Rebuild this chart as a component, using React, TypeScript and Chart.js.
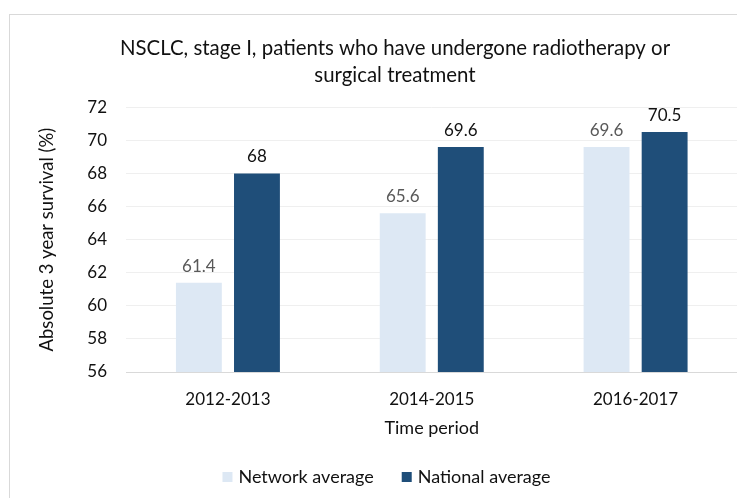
import React, { useEffect, useRef } from "react";
import { Chart, registerables } from "chart.js";

Chart.register(...registerables);

const categories = ["2012-2013", "2014-2015", "2016-2017"];
const networkAverage = [61.4, 65.6, 69.6];
const nationalAverage = [68, 69.6, 70.5];
const seriesNames = ["Network average", "National average"];
const titleLines = ["NSCLC, stage I, patients who have undergone radiotherapy or", "surgical treatment"];
const yTitle = "Absolute 3 year survival (%)";
const xTitle = "Time period";

const FONT = "Lato, 'Open Sans', sans-serif";

const dataLabels = {
  id: "dataLabels",
  afterDatasetsDraw(chart: any) {
    const ctx = chart.ctx;
    ctx.save();
    ctx.font = `17px ${FONT}`;
    ctx.textAlign = "center";
    ctx.textBaseline = "alphabetic";
    chart.data.datasets.forEach((ds: any, i: number) => {
      const meta = chart.getDatasetMeta(i);
      ctx.fillStyle = i === 0 ? "#595959" : "#111111";
      meta.data.forEach((el: any, j: number) => {
        ctx.fillText(String(ds.data[j]), el.x, el.y - 11);
      });
    });
    ctx.restore();
  },
};

// Legend drawn below the x axis, centred slightly left of the canvas centre (as in the source)
const bottomLegend = {
  id: "bottomLegend",
  afterDraw(chart: any) {
    const ctx = chart.ctx;
    const xAxis = chart.scales.x;
    ctx.save();
    ctx.font = `18px ${FONT}`;
    ctx.textBaseline = "middle";
    ctx.textAlign = "left";
    const box = 10;
    const boxGap = 6;
    const itemGap = 28;
    const items = chart.data.datasets.map((ds: any) => ({
      text: ds.label,
      color: ds.backgroundColor,
      w: box + boxGap + ctx.measureText(ds.label).width,
    }));
    const total = items.reduce((a: number, it: any) => a + it.w, 0) + itemGap * (items.length - 1);
    const cx = chart.width / 2 - 8.5;
    const cy = xAxis.bottom + 30.5;
    let x = cx - total / 2;
    items.forEach((it: any) => {
      ctx.fillStyle = it.color;
      ctx.fillRect(x, cy - box / 2, box, box);
      ctx.fillStyle = "#111111";
      ctx.fillText(it.text, x + box + boxGap, cy);
      x += it.w + itemGap;
    });
    ctx.restore();
  },
};

export default function App() {
  const ref = useRef<HTMLCanvasElement>(null);
  useEffect(() => {
    if (!ref.current) return;
    const chart = new Chart(ref.current, {
      type: "bar",
      data: {
        labels: categories,
        datasets: [
          {
            label: seriesNames[0],
            data: networkAverage,
            backgroundColor: "#dde8f4",
            barPercentage: 0.79,
            categoryPercentage: 0.57,
          },
          {
            label: seriesNames[1],
            data: nationalAverage,
            backgroundColor: "#1f4e79",
            barPercentage: 0.79,
            categoryPercentage: 0.57,
          },
        ],
      },
      options: {
        animation: false,
        responsive: true,
        maintainAspectRatio: false,
        layout: { padding: { left: 0, right: 0, top: 0, bottom: 57.5 } },
        plugins: {
          title: {
            display: true,
            text: titleLines,
            color: "#111111",
            font: { family: FONT, size: 20.4, weight: "normal", lineHeight: 1.33 },
            padding: { top: 20, bottom: 18 },
          },
          legend: { display: false },
          tooltip: { enabled: false },
        },
        scales: {
          x: {
            grid: { display: false, drawTicks: false },
            border: { color: "#d9d9d9", width: 1 },
            ticks: { color: "#111111", font: { family: FONT, size: 17 }, padding: 17 },
            title: {
              display: true,
              text: xTitle,
              color: "#111111",
              font: { family: FONT, size: 18 },
              padding: { top: 0, bottom: 8 },
            },
            afterFit: (s: any) => {
              s.height = 74.5;
            },
          },
          y: {
            min: 56,
            max: 72,
            ticks: { stepSize: 2, color: "#111111", font: { family: FONT, size: 17 }, padding: 19 },
            grid: { color: "#efefef", drawTicks: false },
            border: { display: false },
            title: {
              display: true,
              text: yTitle,
              color: "#111111",
              font: { family: FONT, size: 18.5 },
              padding: { top: 26, bottom: 0 },
            },
            afterFit: (s: any) => {
              s.width = 116;
            },
          },
          yRight: {
            type: "linear",
            position: "right",
            display: true,
            grid: { display: false, drawTicks: false },
            border: { display: false },
            ticks: { display: false },
            afterFit: (s: any) => {
              s.width = 42.5;
            },
          },
        },
      },
      plugins: [dataLabels, bottomLegend],
    });
    return () => chart.destroy();
  }, []);

  return (
    <div style={{ width: 737, height: 490, overflow: "hidden", position: "relative" }}>
      <div
        style={{
          position: "absolute",
          left: 1,
          top: 6,
          width: 772,
          height: 520,
          border: "1px solid #d9d9d9",
          boxSizing: "border-box",
          background: "#fff",
        }}
      >
        <div style={{ position: "relative", width: 770, height: 489 }}>
          <canvas ref={ref} />
        </div>
      </div>
    </div>
  );
}
